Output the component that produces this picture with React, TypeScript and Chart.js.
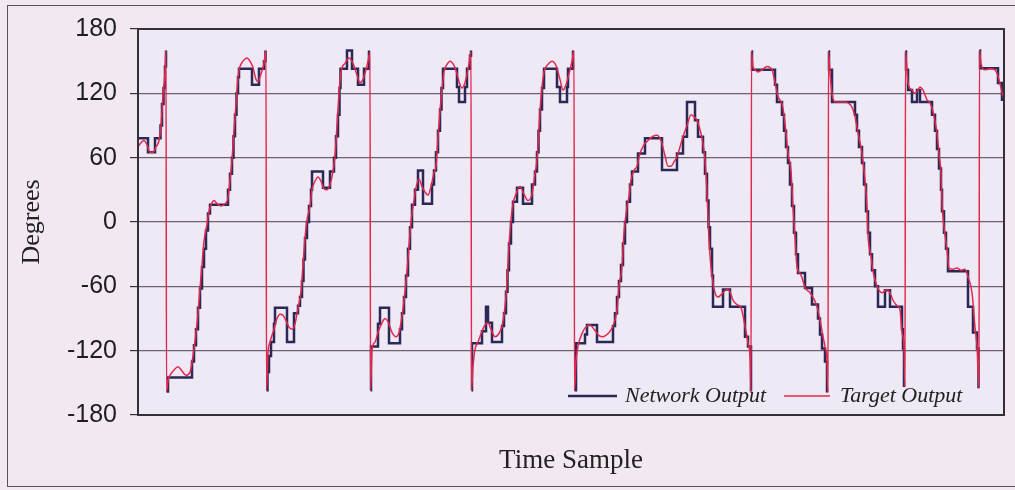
import React, { useEffect, useRef } from "react";
import { Chart, registerables } from "chart.js";

Chart.register(...registerables);

// ---- chart values ----
const seriesLabels = ["Network Output", "Target Output"];
const yTickValues = [-180, -120, -60, 0, 60, 120, 180];
const sampleRange = [0, 866];

// Target Output: [time sample, degrees]
const targetOutput: [number, number][] = [
  [0, 70], [3, 74], [6, 76], [9, 72], [12, 65], [15, 65], [18, 70], [21, 76], [23, 90], [25, 118], [27, 140], [28, 160],
  [28.5, -158],
  [30, -148], [32, -143], [36, -138], [40, -135], [44, -139], [48, -143], [52, -140], [55, -125], [59, -95], [62, -62],
  [64, -40], [66, -18], [69, -2], [71, 10], [73, 16], [76, 20], [79, 17], [83, 15], [87, 17], [90, 22], [92, 39], [94, 58],
  [96, 86], [98, 110], [100, 135], [102, 145], [105, 150], [109, 153], [112, 150], [115, 144], [118, 133], [120, 131],
  [123, 138], [126, 148], [128, 160],
  [128.5, -157],
  [130, -122], [132, -112], [136, -100], [139, -90], [142, -86], [145, -87], [148, -92], [151, -98], [154, -100], [157, -95],
  [160, -80], [163, -65], [165, -40], [167, -15], [169, 2], [172, 15], [174, 30], [177, 38], [180, 42], [183, 38], [186, 31],
  [189, 30], [192, 35], [194, 42], [197, 62], [199, 90], [201, 120], [203, 140], [207, 148], [211, 153], [215, 148],
  [219, 137], [222, 130], [225, 133], [228, 142], [230, 150], [232, 158],
  [232.5, -157],
  [234, -119], [237, -112], [240, -103], [244, -94], [247, -90], [250, -93], [254, -103], [258, -107], [261, -103],
  [264, -88], [267, -65], [270, -35], [272, -10], [274, 8], [276, 20], [278, 32], [281, 40], [284, 33], [287, 28], [290, 25],
  [293, 33], [296, 46], [298, 52], [300, 79], [302, 104], [304, 123], [306, 140], [309, 147], [312, 150], [316, 146],
  [319, 138], [322, 128], [324, 125], [327, 130], [329, 138], [331, 148], [333, 159],
  [333.5, -157],
  [335, -135], [337, -119], [340, -112], [344, -102], [347, -96], [350, -94], [353, -100], [357, -107], [361, -104],
  [364, -97], [367, -79], [369, -57], [370.5, -29], [373, 2], [375, 17], [378, 26], [382, 33], [386, 26], [390, 20],
  [394, 26], [397, 45], [399, 58], [400.5, 80], [402, 104], [404, 126], [406, 140], [410, 147], [414, 150], [418, 146],
  [422, 133], [425, 123], [428, 128], [432, 142], [434, 150], [436, 160],
  [436.5, -157],
  [438, -130], [440, -116], [445, -102], [449, -97], [452, -96], [456, -100], [461, -106], [465, -107], [470, -104],
  [475, -97], [479, -82], [481, -60], [484, -42], [486, -10], [489, 14], [491, 24], [493, 39], [496, 48], [499, 52],
  [502, 64], [506, 72], [510, 76], [515, 80], [519, 81], [523, 76], [527, 62], [530, 52], [533, 52], [536, 56], [539, 61],
  [542, 70], [545, 79.5], [549, 90], [553, 100], [556, 98], [559, 95], [562, 86], [564, 78], [567, 58], [569, 27], [570, 5],
  [571, -17], [574, -51], [577, -66], [580, -70], [584, -67], [589, -63], [592, -65], [595, -73], [599, -77], [603, -80],
  [607, -97], [610, -113], [612, -126], [613, -158],
  [613.5, 159],
  [615, 145], [617, 142], [620, 140], [624, 142], [629, 145], [634, 142], [637, 130], [640, 117], [644, 110], [646, 100],
  [648, 83], [650, 64], [653, 48], [655, 14], [657, -14], [659, -42], [662, -48], [664, -52], [667, -61], [672, -66],
  [676, -72], [679, -79], [682, -91], [685, -107], [687, -116], [689, -129], [690, -159],
  [690.5, 159],
  [692, 139], [694, 120], [697, 112], [702, 112], [707, 112], [710, 111], [714, 107], [717, 98], [720, 83], [724, 64],
  [727, 39], [729, 14], [730, -12], [733, -32], [735, -46], [739, -60], [744, -66], [749, -63], [752, -66], [755, -73],
  [759, -78], [762, -82], [764, -103], [766, -116], [767, -154],
  [767.5, 159],
  [769, 142], [770, 130], [774, 123], [777, 120], [780, 123], [782, 126], [785, 123], [789, 114], [792, 111], [795, 103],
  [799, 83], [801, 64], [803, 45], [804, 20], [805, 5], [807, -12], [809, -26], [811, -43], [815, -44], [819, -43],
  [823, -45], [827, -44], [830, -51], [834, -66], [837, -98], [839, -116], [841, -155],
  [841.5, 160],
  [843, 148], [847, 142], [852, 143], [857, 142], [860, 136], [863, 125], [865, 117],
];

// Network Output (quantised steps): [time sample, degrees]
const networkOutput: [number, number][] = [
  [0, 78], [10, 65], [17, 78], [22.5, 90], [24, 110], [25.5, 125], [27, 145], [28, 160],
  [28.5, -158],
  [30, -145], [54, -130], [56, -115], [58, -100], [60, -80], [62, -62], [64, -42], [66, -25], [68, -8], [70, 8], [72, 16],
  [90, 30], [92, 45], [94, 60], [95.5, 80], [97, 100], [98.5, 120], [100, 135], [101, 143], [114, 128], [121, 143],
  [126, 150], [127.5, 160],
  [128.5, -157],
  [129.5, -140], [131, -125], [133, -112], [136, -95], [137, -80], [149, -112], [156, -85], [160, -78], [162, -70],
  [164, -55], [165.5, -35], [167, -15], [169, 0], [171, 15], [173, 30], [174, 47], [185, 32], [192, 47], [196, 60],
  [198, 80], [200, 100], [201.5, 125], [202.5, 143], [209, 160], [214, 143], [220, 128], [226, 143], [231, 160],
  [232.5, -157],
  [233, -116], [240, -95], [242, -80], [251, -113], [262, -100], [264, -85], [266, -70], [268, -50], [270, -25], [272, -5],
  [274, 16], [277, 30], [280, 48], [285, 17], [294, 35], [296, 48], [298, 65], [300, 85], [302, 105], [303.5, 125],
  [305, 143], [319, 126], [321, 112], [327, 126], [329, 143], [332, 155], [333, 160],
  [333.5, -157],
  [334, -113], [344, -102], [348, -79], [350, -94], [354, -112], [364, -97], [366, -85], [368, -65], [369.5, -45],
  [371, -20], [373, 0], [375, 19], [379, 32], [385, 17], [394, 35], [397, 47], [399, 65], [400.5, 85], [402, 105],
  [404, 125], [406, 143], [419, 126], [422, 112], [429, 126], [430, 143], [435, 160],
  [436.5, -157],
  [438, -113], [447, -105], [449, -96], [459, -112], [475, -97], [477, -85], [479, -70], [481, -55], [483, -40], [485, -20],
  [487, 0], [489, 19], [492, 35], [494, 47], [500, 64], [507, 78], [524, 48.5], [539, 64], [545, 79.5], [549, 112],
  [557, 95], [560, 79.5], [565, 65], [567, 45], [569, 20], [570.5, -5], [572, -25], [574, -50], [575, -79], [585, -63],
  [592, -79], [607, -107], [610, -116], [613, -158],
  [613.5, 159],
  [614, 142], [637, 128], [639, 112], [644, 100], [646, 85], [648, 70], [650, 55], [652, 35], [654, 15], [656, -10],
  [658, -30], [660, -47.5], [667, -61.6], [674, -77], [680, -90], [682, -105], [684, -118], [687, -130], [689, -159],
  [690.5, 159],
  [691, 142], [694, 112], [717, 100], [719, 85], [721, 70], [724, 55], [726, 35], [728, 10], [730, -10], [732, -30],
  [734, -45], [737, -60], [740, -79], [747, -63.7], [752, -79], [764, -100], [765, -118], [766, -154],
  [767.5, 159],
  [768, 142], [770, 123], [774, 112], [779, 123], [782, 112], [794, 100], [797, 85], [799, 68], [801, 50], [803, 30],
  [804, 10], [806, -10], [808, -25], [810, -46], [830, -79], [835, -103], [839, -118], [840.5, -155],
  [841.5, 160],
  [842, 143.5], [860, 129.6], [864, 114], [866, 114],
];

const NETWORK_COLOR = "#2a2856";
const TARGET_COLOR = "#e3284f";

// break the quantised network trace where it wraps from +180 to -180
function withWrapGaps(points: [number, number][]) {
  const out: { x: number; y: number | null }[] = [];
  points.forEach(([x, y], i) => {
    if (i > 0 && Math.abs(y - points[i - 1][1]) > 250) {
      out.push({ x: (x + points[i - 1][0]) / 2, y: null });
    }
    out.push({ x, y });
  });
  return out;
}

export default function App() {
  const canvasRef = useRef<HTMLCanvasElement>(null);

  useEffect(() => {
    document.body.style.margin = "0";
    const canvas = canvasRef.current;
    if (!canvas) return;

    const plotFrame = {
      id: "plotFrame",
      beforeDraw(chart: any) {
        const { ctx, chartArea } = chart;
        ctx.save();
        ctx.fillStyle = "#eee9f4";
        ctx.fillRect(chartArea.left, chartArea.top, chartArea.right - chartArea.left, chartArea.bottom - chartArea.top);
        ctx.restore();
      },
      afterDatasetsDraw(chart: any) {
        const { ctx, chartArea } = chart;
        ctx.save();
        ctx.strokeStyle = "#333038";
        ctx.lineWidth = 2;
        ctx.strokeRect(chartArea.left, chartArea.top, chartArea.right - chartArea.left, chartArea.bottom - chartArea.top);
        ctx.restore();
      },
    };

    const insideLegend = {
      id: "insideLegend",
      afterDraw(chart: any) {
        const { ctx, chartArea } = chart;
        const y = chartArea.bottom - 19;
        const r = chartArea.right;
        ctx.save();
        ctx.font = "italic 22px 'Liberation Serif'";
        ctx.textBaseline = "middle";
        ctx.textAlign = "left";
        ctx.fillStyle = "#222";
        ctx.strokeStyle = NETWORK_COLOR;
        ctx.lineWidth = 2.5;
        ctx.beginPath();
        ctx.moveTo(r - 436, y);
        ctx.lineTo(r - 387, y);
        ctx.stroke();
        ctx.fillText(seriesLabels[0], r - 379, y);
        ctx.strokeStyle = TARGET_COLOR;
        ctx.lineWidth = 1.5;
        ctx.beginPath();
        ctx.moveTo(r - 220, y);
        ctx.lineTo(r - 174, y);
        ctx.stroke();
        ctx.fillText(seriesLabels[1], r - 164, y);
        ctx.restore();
      },
    };

    const chart = new Chart(canvas, {
      type: "line",
      data: {
        datasets: [
          {
            label: seriesLabels[0],
            data: withWrapGaps(networkOutput),
            borderColor: NETWORK_COLOR,
            borderWidth: 2.5,
            pointRadius: 0,
            stepped: "before",
            spanGaps: false,
            fill: false,
            order: 1,
          },
          {
            label: seriesLabels[1],
            data: targetOutput.map(([x, y]) => ({ x, y })),
            borderColor: TARGET_COLOR,
            borderWidth: 1.5,
            pointRadius: 0,
            cubicInterpolationMode: "monotone",
            fill: false,
            order: 0,
          },
        ],
      },
      options: {
        responsive: false,
        animation: false,
        events: [],
        layout: { padding: { top: 29, right: 11, bottom: 0, left: 0 } },
        plugins: {
          legend: { display: false },
          tooltip: { enabled: false },
        },
        scales: {
          x: {
            type: "linear",
            min: sampleRange[0],
            max: sampleRange[1],
            ticks: { display: false },
            grid: { display: false },
            border: { display: false },
            title: {
              display: true,
              text: "Time Sample",
              color: "#222",
              font: { family: "'Liberation Serif'", size: 27, lineHeight: 1.2 },
              padding: { top: 0, bottom: 13 },
            },
            afterFit: (scale: any) => {
              scale.height = 75;
            },
          },
          y: {
            type: "linear",
            min: yTickValues[0],
            max: yTickValues[yTickValues.length - 1],
            afterBuildTicks: (scale: any) => {
              scale.ticks = yTickValues.map((v) => ({ value: v }));
            },
            ticks: {
              color: "#1e1e1e",
              padding: 13,
              font: { family: "'Liberation Sans'", size: 25 },
            },
            grid: {
              color: "#6f6270",
              lineWidth: 1.2,
              drawTicks: true,
              tickLength: 8,
              tickColor: "#333038",
            },
            border: { display: true, color: "#333038", width: 2 },
            title: {
              display: true,
              text: "Degrees",
              color: "#222",
              font: { family: "'Liberation Serif'", size: 26, lineHeight: 1.2 },
              padding: { top: 17, bottom: 0 },
            },
            afterFit: (scale: any) => {
              scale.width = 138;
            },
          },
        },
      },
      plugins: [plotFrame, insideLegend],
    });

    return () => chart.destroy();
  }, []);

  return (
    <div style={{ position: "absolute", left: 0, top: 0, width: 1015, height: 490, background: "#f2e8f2", overflow: "hidden" }}>
      <div
        style={{
          position: "absolute",
          left: 7,
          top: 5,
          width: 1030,
          height: 482,
          border: "1.5px solid #555",
          boxSizing: "border-box",
        }}
      />
      <canvas ref={canvasRef} width={1015} height={490} style={{ position: "absolute", left: 0, top: 0 }} />
    </div>
  );
}
